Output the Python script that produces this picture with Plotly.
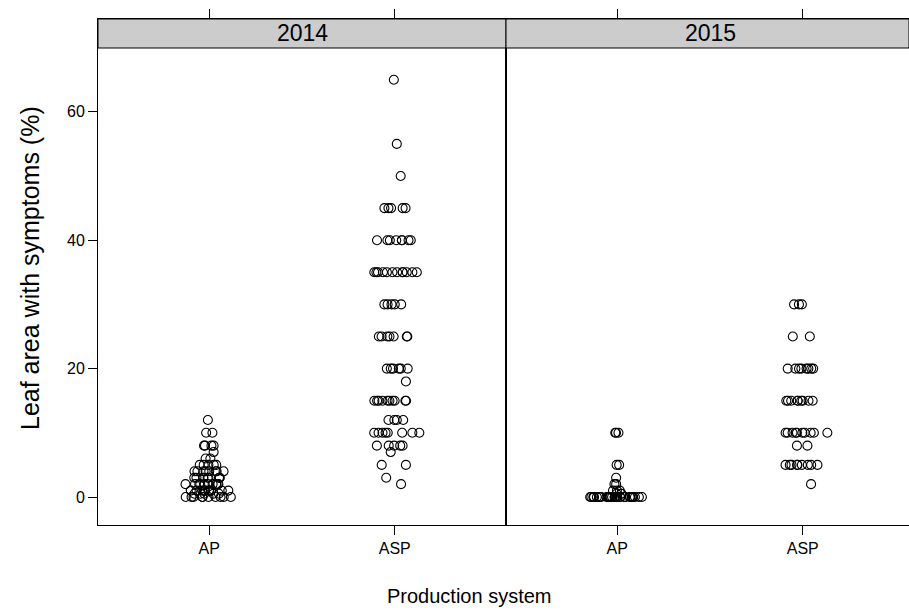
import plotly.graph_objects as go

# ---- data ----
years = ["2014", "2015"]
systems = ["AP", "ASP"]
tick_positions = [1, 2]

ap_2014 = [12, 10, 10, 8, 8, 8, 8, 7, 6, 6, 5, 5, 5, 5, 5, 4, 4, 4, 4, 4, 4, 4, 4,
           3, 3, 3, 3, 3, 3, 3, 3, 3, 2, 2, 2, 2, 2, 2, 2, 2, 2, 2, 2,
           1, 1, 1, 1, 1, 1, 1, 1, 1, 1, 1, 0.5, 0.5, 0.5, 0.5, 0.5,
           0, 0, 0, 0, 0, 0, 0, 0, 0, 0]
asp_2014 = [65, 55, 50, 45, 45, 45, 45, 45, 40, 40, 40, 40, 40, 40, 40, 40,
            35, 35, 35, 35, 35, 35, 35, 35, 35, 35, 35, 35,
            30, 30, 30, 30, 30, 25, 25, 25, 25, 25, 25, 25,
            20, 20, 20, 20, 20, 20, 18, 15, 15, 15, 15, 15, 15, 15, 15, 15, 15,
            12, 12, 12, 12, 10, 10, 10, 10, 10, 10, 10, 10,
            8, 8, 8, 8, 8, 7, 5, 5, 3, 2]
ap_2015 = [10, 10, 10, 5, 5, 3, 2, 2, 1, 1, 1, 0.5, 0.5, 0.5,
           0, 0, 0, 0, 0, 0, 0, 0, 0, 0, 0, 0, 0, 0, 0, 0, 0, 0, 0, 0,
           0, 0, 0, 0, 0, 0, 0, 0, 0, 0, 0, 0, 0, 0, 0, 0]
asp_2015 = [30, 30, 30, 25, 25, 20, 20, 20, 20, 20, 20, 20, 20,
            15, 15, 15, 15, 15, 15, 15, 15, 15,
            10, 10, 10, 10, 10, 10, 10, 10, 10, 10, 8, 8,
            5, 5, 5, 5, 5, 5, 5, 5, 5, 2]

y_ticks = [0, 20, 40, 60]

# ---- layout geometry (pixels) ----
W, H = 909, 612
L, R, T, B = 98, 0, 19, 87
plot_w = W - L - R
plot_h = H - T - B
split_px = 506
d = (split_px - L) / plot_w
unit_px = 408 / 2.2
strip_px = 29

def px_x(p):
    return (p - L) / plot_w

def px_y(p):
    return (H - B - p) / plot_h

FONT = "Liberation Sans, Arial, sans-serif"

fig = go.Figure()

marker = dict(symbol="circle-open", size=9, color="black",
              line=dict(color="black", width=1.1))

panels = [(ap_2014, asp_2014, "x", "y"), (ap_2015, asp_2015, "x2", "y2")]
for ap_vals, asp_vals, xa, ya in panels:
    for pos, vals in zip(tick_positions, [ap_vals, asp_vals]):
        fig.add_trace(go.Box(
            x=[pos] * len(vals), y=vals,
            xaxis=xa, yaxis=ya,
            boxpoints="all", jitter=1.0, pointpos=0, width=0.3,
            fillcolor="rgba(0,0,0,0)", line=dict(color="rgba(0,0,0,0)", width=0),
            marker=marker, showlegend=False, hoverinfo="y",
        ))

ymin = -(H - B - 497) / 6.42
ymax = (497 - T) / 6.42

axis_common = dict(showline=True, linecolor="black", linewidth=1, mirror="ticks",
                   ticks="outside", ticklen=9, tickcolor="black", showgrid=False,
                   zeroline=False, tickfont=dict(family=FONT, size=16, color="black"))

fig.update_layout(
    width=W, height=H,
    margin=dict(l=L, r=R, t=T, b=B),
    paper_bgcolor="white", plot_bgcolor="white",
    xaxis=dict(domain=[0, d], range=[0.4, 2.6], tickvals=tick_positions,
               ticktext=systems, anchor="y", **axis_common),
    xaxis2=dict(domain=[d, 1], range=[0.4, 0.4 + (W - R - split_px) / unit_px],
                tickvals=tick_positions, ticktext=systems, anchor="y2", **axis_common),
    yaxis=dict(range=[ymin, ymax], tickvals=y_ticks, anchor="x",
               **{k: v for k, v in axis_common.items() if k != "mirror"}, mirror=True),
    yaxis2=dict(range=[ymin, ymax], tickvals=y_ticks, anchor="x2", showticklabels=False,
                showline=True, linecolor="black", linewidth=1, mirror=True, ticks="",
                showgrid=False, zeroline=False),
    font=dict(family=FONT, color="black"),
)

strip_y0 = px_y(T + strip_px)
for x0, x1 in [(0, d), (d, 1)]:
    fig.add_shape(type="rect", xref="paper", yref="paper", x0=x0, x1=x1,
                  y0=strip_y0, y1=1, fillcolor="#cccccc",
                  line=dict(color="black", width=1), layer="above")
centers = [px_x((L + split_px) / 2), px_x((split_px + split_px + 408) / 2)]
for c, label in zip(centers, years):
    fig.add_annotation(x=c, y=(strip_y0 + 1) / 2, xref="paper", yref="paper",
                       xanchor="center", yanchor="middle",
                       text=label, showarrow=False,
                       font=dict(family=FONT, size=23, color="black"))

fig.add_annotation(x=px_x(469), y=px_y(596), xref="paper", yref="paper",
                   xanchor="center", yanchor="middle",
                   text="Production system", showarrow=False,
                   font=dict(family=FONT, size=20, color="black"))
fig.add_annotation(x=px_x(30), y=px_y(268), xref="paper", yref="paper",
                   xanchor="center", yanchor="middle",
                   text="Leaf area with symptoms (%)", showarrow=False, textangle=-90,
                   font=dict(family=FONT, size=25, color="black"))

fig.write_html("out.html")
